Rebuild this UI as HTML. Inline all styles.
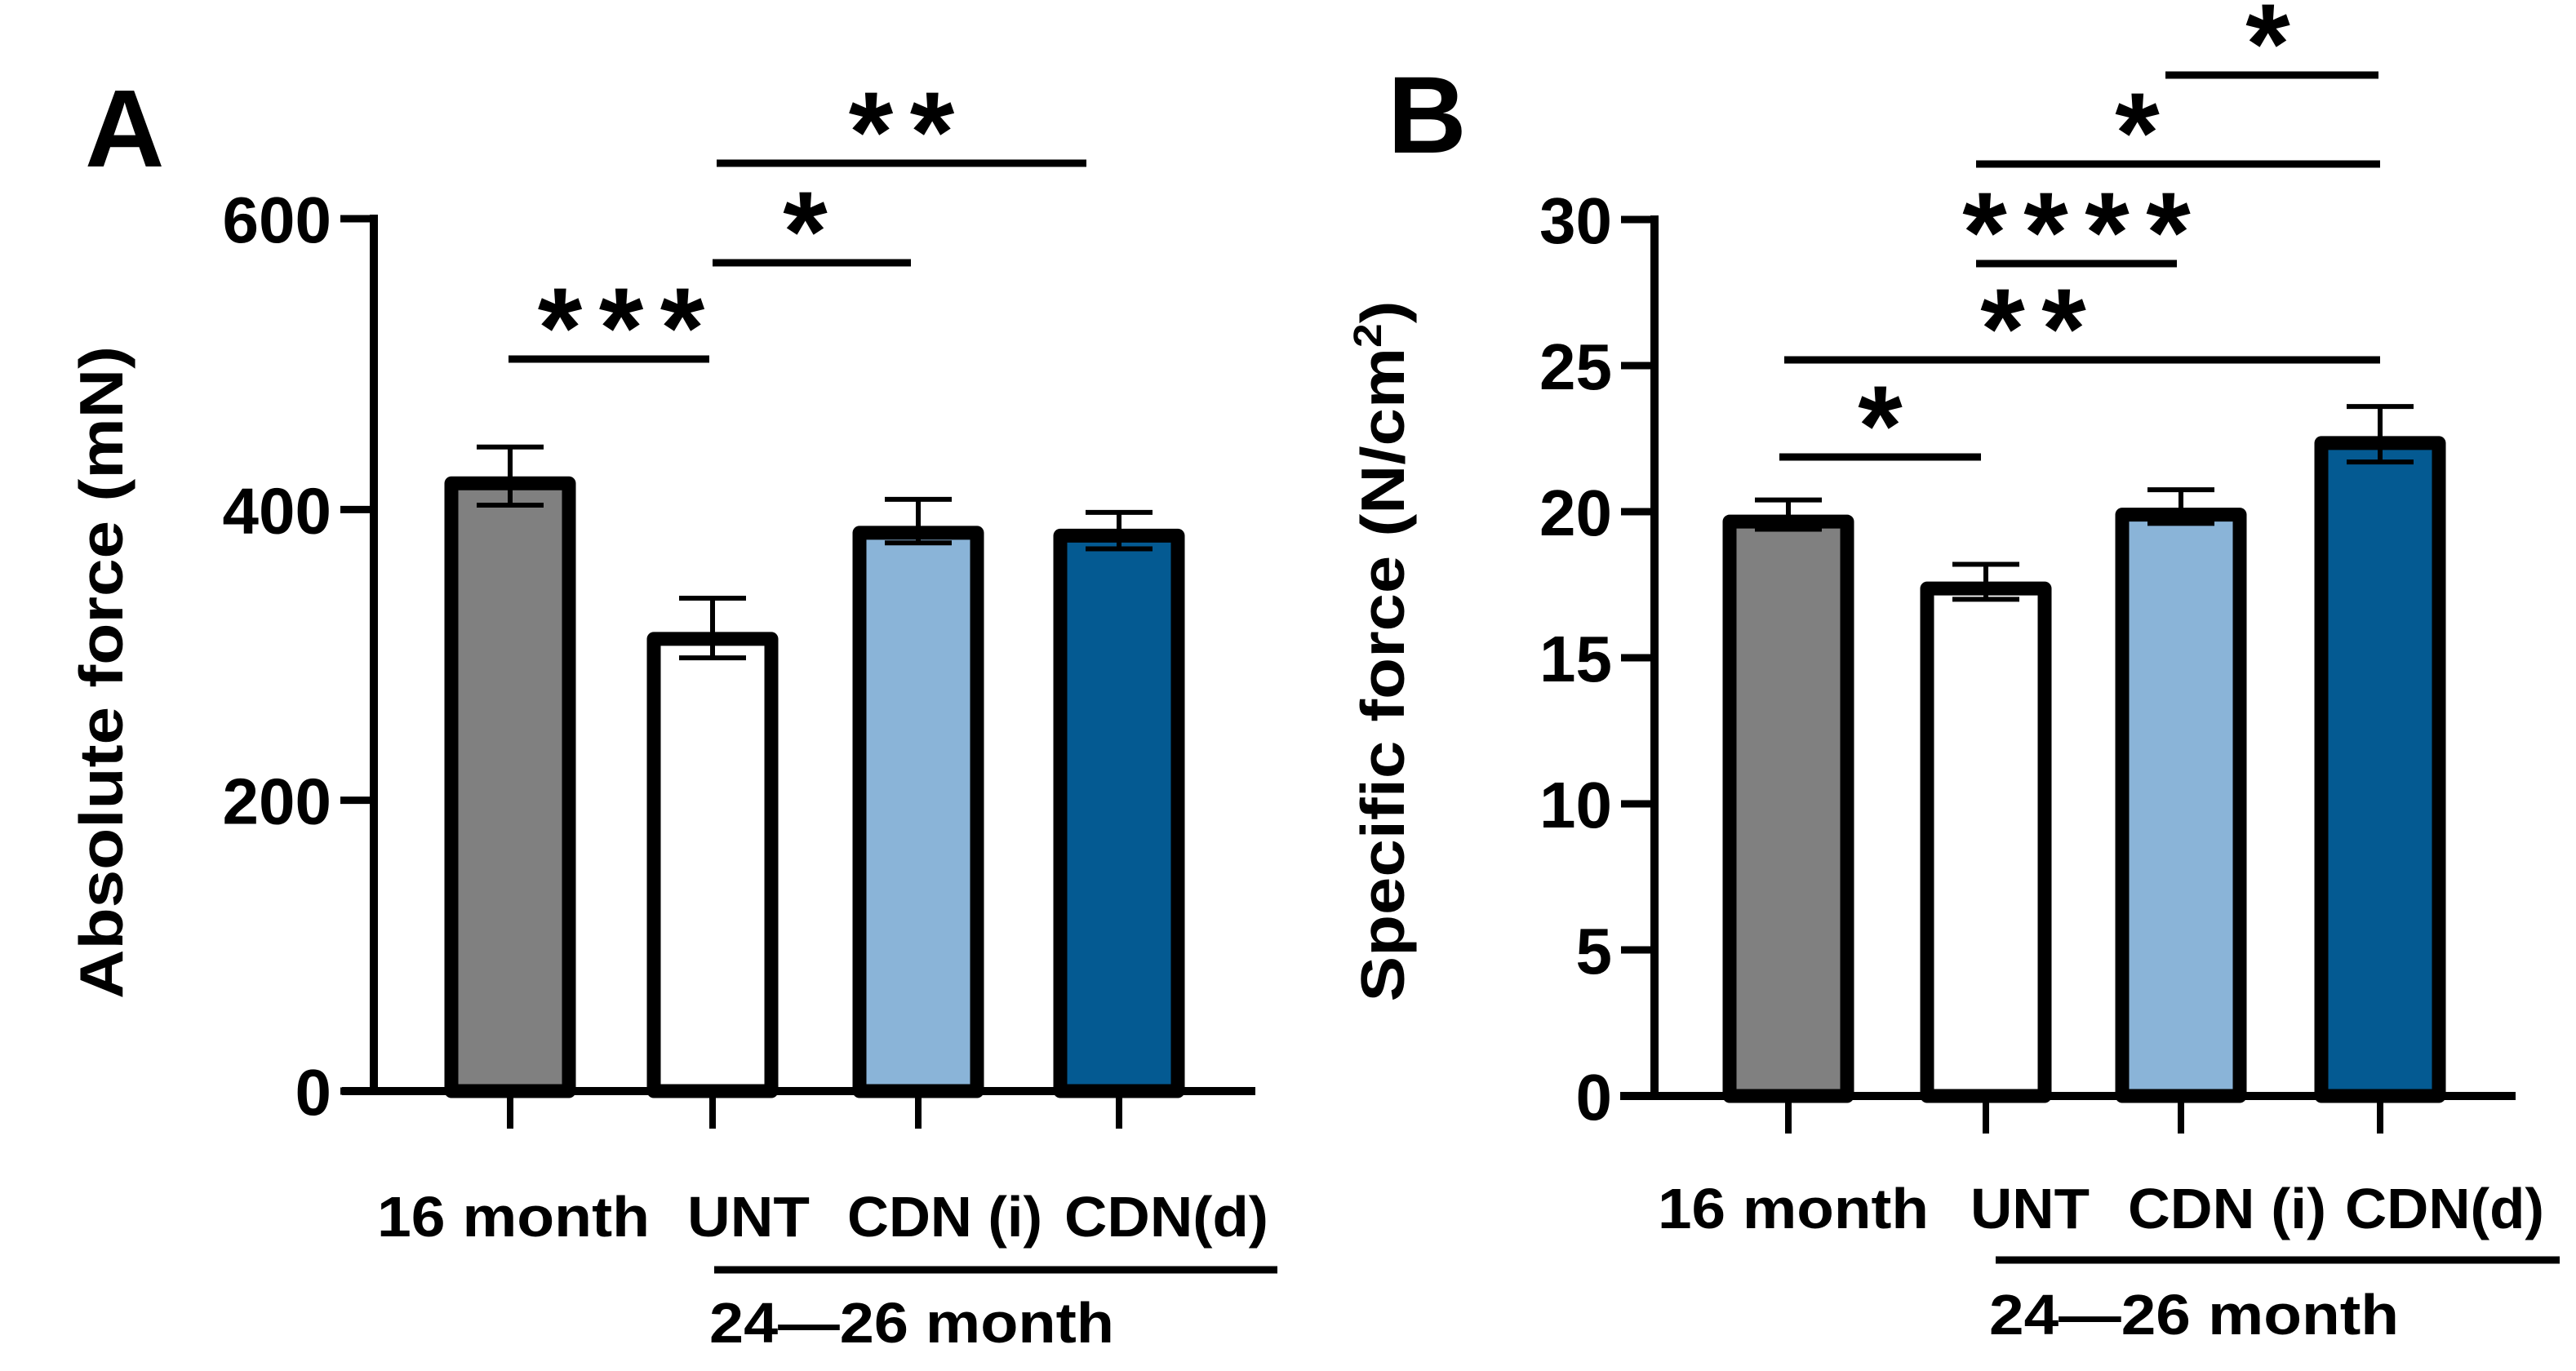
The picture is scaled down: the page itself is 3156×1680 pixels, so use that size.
<!DOCTYPE html>
<html><head><meta charset="utf-8"><style>
html,body{margin:0;padding:0;background:#fff;}
svg{display:block;}
text{font-family:"Liberation Sans",sans-serif;font-weight:bold;fill:#000;}
</style></head><body>
<svg id="fig" width="3156" height="1680" viewBox="0 0 3156 1680" xmlns="http://www.w3.org/2000/svg">
<g id="panelA">
<text x="104" y="204" font-size="135">A</text>
<text transform="translate(150,824) rotate(-90)" text-anchor="middle" font-size="75" textLength="800" lengthAdjust="spacingAndGlyphs">Absolute force (mN)</text>
</g>
<g id="panelB">
<text x="1700" y="187" font-size="134">B</text>
<text transform="translate(1720,798) rotate(-90)" text-anchor="middle" font-size="75" textLength="859" lengthAdjust="spacingAndGlyphs">Specific force (N/cm<tspan font-size="48" dy="-28">2</tspan><tspan dy="28">)</tspan></text>
</g>
</svg>
<script>
// ---- data ----
const categories = ["16 month","UNT","CDN (i)","CDN(d)"];
const colors = ["#808080","#ffffff","#8ab4d8","#045a92"];
const absForce = [418, 311, 384, 382];
const absErrHi = [443, 339, 407, 398];
const absErrLo = [403, 298, 377, 373];
const absTicks = [0, 200, 400, 600];
const absTickLabels = ["0","200","400","600"];
const specForce = [19.66, 17.37, 19.9, 22.35];
const specErrHi = [20.4, 18.2, 20.75, 23.6];
const specErrLo = [19.4, 17.0, 19.6, 21.7];
const specTicks = [0, 5, 10, 15, 20, 25, 30];
const specTickLabels = ["0","5","10","15","20","25","30"];
// significance: [fromIndex, toIndex, stars]
const absSig = [[0,1,"***"],[1,2,"*"],[1,3,"**"]];
const specSig = [[0,1,"*"],[0,3,"**"],[1,2,"****"],[1,3,"*"],[2,3,"*"]];

const NS="http://www.w3.org/2000/svg";
const svg=document.getElementById('fig');
function mk(parent,tag,attrs){const e=document.createElementNS(NS,tag);for(const k in attrs)e.setAttribute(k,attrs[k]);parent.appendChild(e);return e;}

function drawPanel(cfg){
  const g=document.getElementById(cfg.id);
  const y=v=>cfg.y0-(v-cfg.vmin)/(cfg.vmax-cfg.vmin)*(cfg.y0-cfg.yTop);
  const x=i=>cfg.xs[i];
  cfg.values.forEach((v,i)=>{
    const r=mk(g,'rect',{x:x(i)-72,y:y(v),width:144,height:cfg.y0-y(v),fill:colors[i],stroke:'#000','stroke-width':17,'stroke-linejoin':'round'});
    
    
  });
  cfg.values.forEach((v,i)=>{
    const eg=mk(g,'g',{stroke:'#000','stroke-width':6});
    
    
    mk(eg,'line',{x1:x(i),x2:x(i),y1:y(cfg.hi[i]),y2:y(cfg.lo[i])});
    mk(eg,'line',{x1:x(i)-41,x2:x(i)+41,y1:y(cfg.hi[i]),y2:y(cfg.hi[i])});
    mk(eg,'line',{x1:x(i)-41,x2:x(i)+41,y1:y(cfg.lo[i]),y2:y(cfg.lo[i])});
  });
  const ya=mk(g,'line',{x1:cfg.ax,x2:cfg.ax,y1:cfg.yTop-5,y2:cfg.y0+5,stroke:'#000','stroke-width':10});
  
  
  const xa=mk(g,'line',{x1:cfg.xl,x2:cfg.xr,y1:cfg.y0,y2:cfg.y0,stroke:'#000','stroke-width':10});
  
  
  cfg.ticks.forEach((t,i)=>{
    const l=mk(g,'line',{x1:cfg.ax-41,x2:cfg.ax,y1:y(t),y2:y(t),stroke:'#000','stroke-width':9});
    
    
    const tx=mk(g,'text',{x:cfg.ax-52,y:y(t)+29,'text-anchor':'end','font-size':80});
    tx.textContent=cfg.tickLabels[i];
    
    
  });
  categories.forEach((c,i)=>{
    const l=mk(g,'line',{x1:x(i),x2:x(i),y1:cfg.y0,y2:cfg.y0+46,stroke:'#000','stroke-width':8});
    
    
    const lb=cfg.labels[i];
    const tx=mk(g,'text',{x:lb[0],y:cfg.labY,'font-size':70,textLength:lb[1],lengthAdjust:'spacingAndGlyphs'});
    tx.textContent=c;
    
    
  });
  const gl=mk(g,'line',{x1:cfg.grp[0],x2:cfg.grp[1],y1:cfg.grp[2],y2:cfg.grp[2],stroke:'#000','stroke-width':9});
  
  
  const gt=mk(g,'text',{x:cfg.grpT[0],y:cfg.grpT[2],'font-size':70,textLength:cfg.grpT[1],lengthAdjust:'spacingAndGlyphs'});
  gt.textContent='24—26 month';
  
  
  cfg.sig.forEach((s,k)=>{
    const p=cfg.sigPos[k];
    const sg=mk(g,'g',{});
    
    
    mk(sg,'line',{x1:p[0],x2:p[1],y1:p[2],y2:p[2],stroke:'#000','stroke-width':9});
    const n=s[2].length, cx=(p[0]+p[1])/2+(p[3]||0);
    for(let j=0;j<n;j++){
      const st=mk(sg,'text',{x:cx+(j-(n-1)/2)*75,y:p[2]+10,'text-anchor':'middle','font-size':140});
      st.textContent='*';
    }
  });
}

drawPanel({id:'panelA',key:'a',vmin:0,vmax:600,y0:1337,yTop:268,ax:458,xl:419,xr:1538,
  xs:[625,873,1125,1371],values:absForce,hi:absErrHi,lo:absErrLo,ticks:absTicks,tickLabels:absTickLabels,
  labels:[[462,334],[842,150],[1038,239],[1304,250]],labY:1515,
  grp:[875,1565,1556],grpT:[869,496,1645],
  sig:absSig,sigPos:[[623,869,440,15],[873,1116,322,-8],[878,1331,200,0]]});

drawPanel({id:'panelB',key:'b',vmin:0,vmax:30,y0:1343,yTop:269,ax:2027,xl:1985,xr:3082,
  xs:[2191,2433,2672,2916],values:specForce,hi:specErrHi,lo:specErrLo,ticks:specTicks,tickLabels:specTickLabels,
  labels:[[2031,332],[2414,146],[2607,243],[2873,244]],labY:1505,
  grp:[2445,3136,1544],grpT:[2437,502,1635],
  sig:specSig,sigPos:[[2180,2427,560,0],[2186,2916,441,-60],[2421,2667,323,0],[2421,2916,201,-50],[2653,2914,92,-5]]});
</script>
</body></html>
